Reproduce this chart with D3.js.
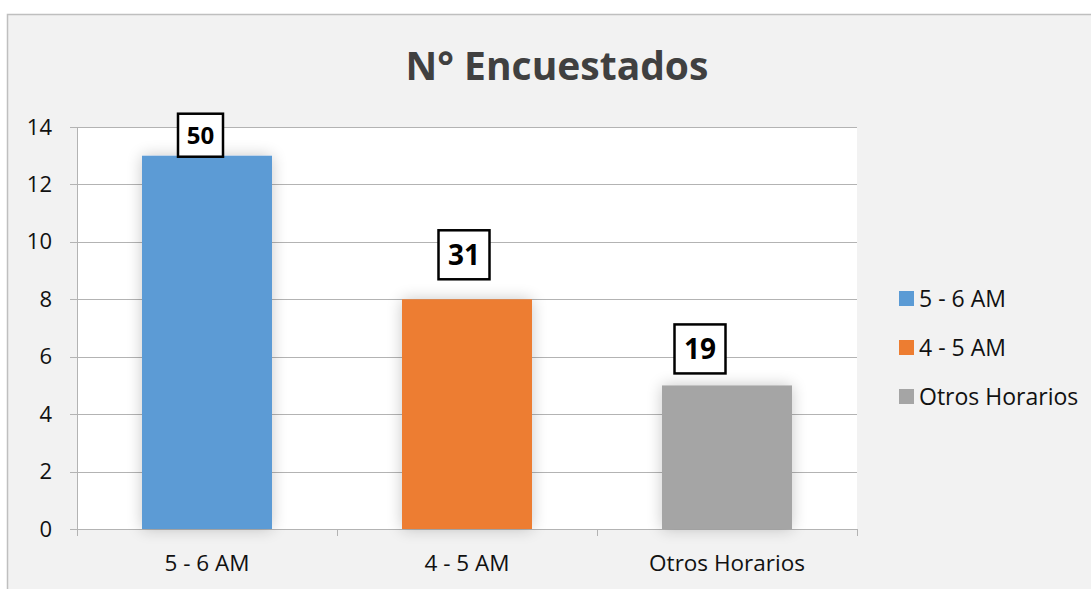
<!DOCTYPE html>
<html><head><meta charset="utf-8">
<script src="https://cdn.jsdelivr.net/npm/d3@7"></script>
<style>body{margin:0;background:#fff}svg{display:block}</style>
</head><body>
<svg id="c" width="1091" height="589"></svg>
<script>
const categories = ["5 - 6 AM", "4 - 5 AM", "Otros Horarios"];
const values = [13, 8, 5];
const dataLabels = ["50", "31", "19"];
const colors = ["#5b9bd5", "#ed7d31", "#a5a5a5"];
const yTicks = [0, 2, 4, 6, 8, 10, 12, 14];
const title = "N° Encuestados";

const svg = d3.select("#c");
const font = "'Open Sans', sans-serif";
const W = 1091, H = 589;
const plot = {l: 77, r: 857, t: 127, b: 529};

// layout of the hand-placed data-label boxes (offset from bar top centre, box size, font size)
const labelLayout = [
  {dx: -6.5, dy: -20.5, w: 45, h: 43, fs: 24},
  {dx: -3, dy: -44.5, w: 51, h: 49, fs: 28},
  {dx: -27, dy: -36.5, w: 51, h: 49, fs: 28}
];

svg.append("rect").attr("x", 7.5).attr("y", 14.5).attr("width", W).attr("height", H)
  .attr("fill", "#f2f2f2").attr("stroke", "#bfbfbf").attr("stroke-width", 1.5);

const defs = svg.append("defs");
const f = defs.append("filter").attr("id", "sh").attr("x", "-30%").attr("y", "-30%").attr("width", "160%").attr("height", "160%");
f.append("feGaussianBlur").attr("in", "SourceAlpha").attr("stdDeviation", 8).attr("result", "b");
f.append("feComponentTransfer").attr("in", "b").attr("result", "b2")
  .append("feFuncA").attr("type", "linear").attr("slope", 0.22);
const m = f.append("feMerge");
m.append("feMergeNode").attr("in", "b2");
m.append("feMergeNode").attr("in", "SourceGraphic");

const x = d3.scaleBand().domain(categories).range([plot.l, plot.r]).paddingInner(0.5).paddingOuter(0.25);
const y = d3.scaleLinear().domain([0, 14]).range([plot.b, plot.t]);

svg.append("rect").attr("x", plot.l).attr("y", plot.t).attr("width", plot.r - plot.l).attr("height", plot.b - plot.t).attr("fill", "#fff");

svg.append("g").selectAll("line").data(yTicks).join("line")
  .attr("x1", plot.l - 7).attr("x2", plot.r)
  .attr("y1", d => Math.round(y(d)) + 0.5).attr("y2", d => Math.round(y(d)) + 0.5)
  .attr("stroke", "#b3b3b3").attr("stroke-width", 1);

const yAxis = d3.axisLeft(y).tickValues(yTicks).tickSize(0).tickPadding(25);
const ya = svg.append("g").attr("transform", `translate(${plot.l},0)`).call(yAxis);
ya.select(".domain").remove();
ya.selectAll("text").attr("font-family", font).attr("font-size", 22).attr("fill", "#111");
svg.append("line").attr("x1", plot.l + 0.5).attr("x2", plot.l + 0.5).attr("y1", plot.t).attr("y2", plot.b + 7)
  .attr("stroke", "#b3b3b3");

const bounds = [0, 1, 2, 3].map(i => plot.l + i * x.step());
svg.append("g").selectAll("line").data(bounds).join("line")
  .attr("x1", d => Math.round(d) + 0.5).attr("x2", d => Math.round(d) + 0.5)
  .attr("y1", plot.b).attr("y2", plot.b + 7).attr("stroke", "#b3b3b3");
svg.append("line").attr("x1", plot.l).attr("x2", plot.r + 1).attr("y1", plot.b + 0.5).attr("y2", plot.b + 0.5).attr("stroke", "#b3b3b3");
const xAxis = d3.axisBottom(x).tickSize(0).tickPadding(26);
const xa = svg.append("g").attr("transform", `translate(0,${plot.b})`).call(xAxis);
xa.select(".domain").remove();
xa.selectAll("text").attr("font-family", font).attr("font-size", 22.5).attr("fill", "#111");

svg.append("g").selectAll("rect").data(values).join("rect")
  .attr("x", (d, i) => x(categories[i])).attr("width", x.bandwidth())
  .attr("y", d => y(d)).attr("height", d => y(0) - y(d))
  .attr("fill", (d, i) => colors[i]).attr("filter", "url(#sh)");

const lg = svg.append("g").selectAll("g").data(values).join("g")
  .attr("transform", (d, i) => {
    const L = labelLayout[i];
    const cx = x(categories[i]) + x.bandwidth() / 2 + L.dx;
    const cy = y(d) + L.dy;
    return `translate(${cx},${cy})`;
  });
lg.append("rect").attr("x", (d, i) => -labelLayout[i].w / 2).attr("y", (d, i) => -labelLayout[i].h / 2)
  .attr("width", (d, i) => labelLayout[i].w).attr("height", (d, i) => labelLayout[i].h)
  .attr("fill", "#fff").attr("stroke", "#000").attr("stroke-width", 2.5);
lg.append("text").text((d, i) => dataLabels[i]).attr("text-anchor", "middle").attr("dy", "0.36em")
  .attr("font-family", font).attr("font-weight", "bold").attr("font-size", (d, i) => labelLayout[i].fs).attr("fill", "#000");

svg.append("text").attr("x", 557).attr("y", 80).attr("text-anchor", "middle")
  .attr("font-family", font).attr("font-weight", "bold").attr("font-size", 39).attr("fill", "#404040")
  .text(title);

const leg = svg.append("g").selectAll("g").data(categories).join("g")
  .attr("transform", (d, i) => `translate(899,${298.5 + i * 49})`);
leg.append("rect").attr("x", 0).attr("y", -7.5).attr("width", 15).attr("height", 15).attr("fill", (d, i) => colors[i]);
leg.append("text").attr("x", 20).attr("dy", "0.36em").text(d => d)
  .attr("font-family", font).attr("font-size", 23).attr("fill", "#111");
</script>
</body></html>
